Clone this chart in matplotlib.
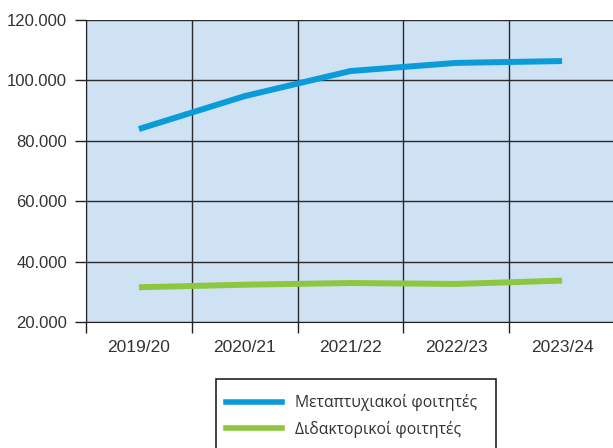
import matplotlib
matplotlib.use("Agg")
import matplotlib.pyplot as plt
from matplotlib.patches import Rectangle
from matplotlib.lines import Line2D
import numpy as np

years = ["2019/20", "2020/21", "2021/22", "2022/23", "2023/24"]
postgrad = [83900, 94800, 103100, 105800, 106400]
doctoral = [31500, 32350, 32900, 32600, 33700]
series_names = ["Μεταπτυχιακοί φοιτητές", "Διδακτορικοί φοιτητές"]
ytick_vals = [20000, 40000, 60000, 80000, 100000, 120000]
ytick_labels = ["20.000", "40.000", "60.000", "80.000", "100.000", "120.000"]

W, H = 613, 448
fig = plt.figure(figsize=(W / 100, H / 100), dpi=100)
ax = fig.add_axes([86 / W, 1 - 322 / H, (615 - 86) / W, (322 - 20) / H])
ax.set_facecolor("#cfe2f3")

blue = "#0a9bd9"
green = "#8dc63f"
x = np.arange(len(years))
ax.plot(x, postgrad, color=blue, lw=4.3, solid_capstyle="butt", zorder=3)
ax.plot(x, doctoral, color=green, lw=4.3, solid_capstyle="butt", zorder=3)

ax.set_xlim(-0.5, len(years) - 0.5)
ax.set_ylim(20000, 120000)

ax.set_yticks(ytick_vals)
ax.set_yticklabels(ytick_labels, fontfamily="Liberation Sans", fontsize=12, color="#333333")
ax.set_xticks(np.arange(len(years) + 1) - 0.5)
ax.set_xticklabels([])
ax.set_xticks(x, minor=True)
ax.set_xticklabels(years, minor=True, fontfamily="Liberation Sans", fontsize=12.5, color="#333333")
ax.tick_params(axis="x", which="major", length=8, width=1, color="#222222", direction="out")
ax.tick_params(axis="x", which="minor", length=0, pad=13)
ax.tick_params(axis="y", length=8, width=1, color="#222222", pad=5.5)

ax.grid(True, which="major", color="#2a2a2a", lw=1)
ax.set_axisbelow(True)
for s in ["top", "right"]:
    ax.spines[s].set_visible(False)
ax.spines["left"].set_color("#222222")
ax.spines["bottom"].set_color("#222222")

# legend box
fig.patches.append(Rectangle((216 / W, 1 - 470 / H), (496 - 216) / W, (470 - 379) / H,
                             transform=fig.transFigure, fill=False, edgecolor="#222222", lw=1.2))
handles = [Line2D([], [], color=blue, lw=4), Line2D([], [], color=green, lw=4)]
leg = fig.legend(handles, series_names, loc="upper left", bbox_to_anchor=(226 / W, 1 - 394 / H),
                 frameon=False, handlelength=3.57, handletextpad=0.83, labelspacing=0.62,
                 prop={"family": "Open Sans", "size": 11.3}, borderaxespad=0, borderpad=0)
for t in leg.get_texts():
    t.set_color("#333333")

fig.savefig("out.png", dpi=100)
